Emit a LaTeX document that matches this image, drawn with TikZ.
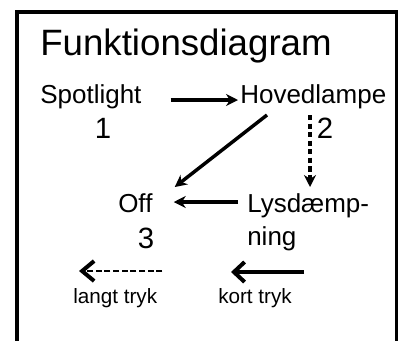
\documentclass[tikz,border=0pt]{standalone}
\usepackage{fontspec}
\setmainfont{Liberation Sans}
\usepackage{tikz}
\usetikzlibrary{calc}
\usetikzlibrary{arrows.meta}
\tikzset{
	pil/.style={-{Stealth[length=9pt,width=9pt]}, line width=2.6pt},
	stiplet/.style={pil, dash pattern=on 4pt off 2.4pt},
	kortpil/.style={-{Straight Barb[length=8pt,width=15pt,line width=3pt]}, line width=3.2pt},
	langtpil/.style={-{Straight Barb[length=9pt,width=15pt,line width=3pt]}, line width=2pt, dash pattern=on 4.5pt off 2pt},
	tekst/.style={inner sep=0pt, anchor=base west},
	tal/.style={inner sep=0pt, anchor=base, font=\fontsize{22}{22}\selectfont}
}

\begin{document}
\begin{tikzpicture}[x=0.75pt,y=-0.75pt]

\useasboundingbox (0,0) rectangle (398,340);
\begin{scope}[font=\fontsize{19.5}{24.75}\selectfont]
\draw[line width=3pt] (17,350) -- (17,12) -- (397,12) -- (397,350);
\node[tekst,font=\fontsize{27.5}{27.5}\selectfont] (titel) at (40,55) {Funktionsdiagram};

\node[tekst] (spot) at (40,103) {Spotlight};
\node[tal] (en) at (103,138) {1};
\node[tekst] (hoved) at (240,103) {Hovedlampe};
\node[tal] (to) at (325,138) {2};
\node[tekst] (off) at (118,212) {Off};
\node[tal] (tre) at (146,248) {3};
\node[inner sep=0pt, anchor=north west, align=left] (lys) at (247,193) {Lysdæmp-\\ning};

\draw[pil] ($(spot.base east)+(29,-3)$) -- ($(hoved.base west)+(-2,-3)$);
\draw[pil] ($(hoved.base west)+(27,12)$) -- ($(off.base east)+(22,-25)$);
\draw[stiplet] ($(hoved.base west)+(70,12)$) -- ($(lys.north west)+(63,-6)$);
\draw[pil] ($(lys.north west)+(-9,9)$) -- ($(off.base east)+(21,-10)$);

% forklaring
\node[tekst,font=\fontsize{15.5}{15.5}\selectfont] (langt) at (73,303) {langt tryk};
\node[tekst,font=\fontsize{15.5}{15.5}\selectfont] (kort) at (218,303) {kort tryk};
\draw[langtpil] ($(langt.base east)+(5,-32)$) -- ($(langt.base west)+(6,-32)$);
\draw[kortpil] ($(kort.base east)+(12,-31)$) -- ($(kort.base west)+(13,-31)$);
\end{scope}

\end{tikzpicture}
\end{document}
